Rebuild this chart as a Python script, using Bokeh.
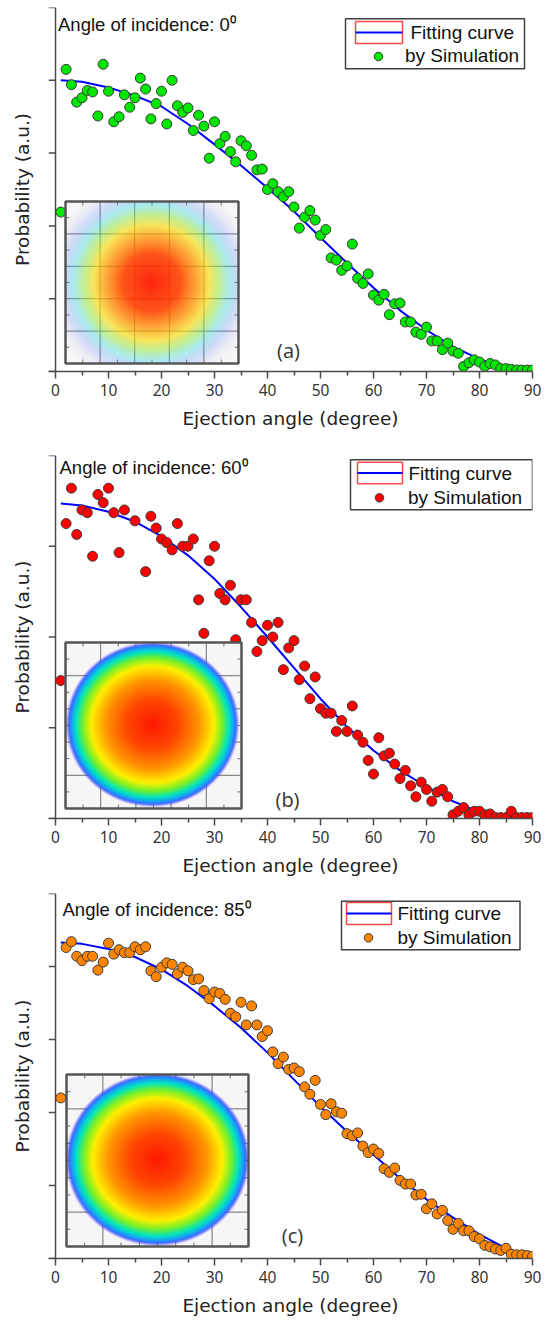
import numpy as np
from bokeh.plotting import figure
from bokeh.models import Range1d, FixedTicker
from bokeh.layouts import column
from bokeh.embed import file_html
from bokeh.resources import INLINE
from bokeh.core.properties import value

NaN = float("nan")

# ---------------- data ----------------
ejection_angle = list(range(1, 91))
x_ticks = [0, 10, 20, 30, 40, 50, 60, 70, 80, 90]
x_minor_ticks = [5, 15, 25, 35, 45, 55, 65, 75, 85]

sim_a = [2.19, 4.15, 3.94, 3.70, 3.76, 3.86, 3.84, 3.51, 4.22, 3.85,
         3.43, 3.50, 3.80, 3.63, 3.76, 4.03, 3.88, 3.47, 3.68, 3.85,
         3.40, 4.00, 3.65, 3.56, 3.62, 3.31, 3.52, 3.37, 2.93, 3.43,
         3.13, 3.23, 3.02, 2.88, 3.17, 3.10, 2.97, 2.77, 2.78, 2.50,
         2.58, 2.47, 2.40, 2.47, 2.26, 1.97, 2.12, 2.21, 2.08, 1.87,
         1.95, 1.56, 1.53, 1.39, 1.45, 1.75, 1.28, 1.21, 1.34, 1.05,
         0.98, 1.06, 0.78, 0.93, 0.94, 0.68, 0.68, 0.54, 0.51, 0.61,
         0.42, 0.42, 0.30, 0.39, 0.28, 0.25, 0.07, 0.12, 0.16, 0.13,
         0.07, 0.11, 0.09, 0.04, 0.04, 0.03, 0.02, 0.02, 0.02, 0.02]

sim_b = [1.52, 3.25, 3.64, 3.13, 3.40, 3.37, 2.89, 3.57, 3.48, 3.64,
         3.37, 2.93, 3.40, NaN, 3.28, NaN, 2.72, 3.33, 3.20, 3.08,
         3.04, 2.96, 3.25, 3.00, 3.00, 3.08, 2.41, 2.04, 2.84, 3.00,
         2.48, 2.41, 2.57, 1.97, 2.41, 2.41, 2.16, 1.84, 1.96, 2.13,
         2.00, 2.16, 1.64, 1.88, 1.96, 1.53, 1.68, 1.32, 1.56, 1.21,
         1.16, 1.16, 0.96, 1.08, 0.96, 1.24, 0.92, 0.84, 0.64, 0.49,
         0.89, 0.69, 0.72, 0.60, 0.44, 0.53, 0.36, 0.24, 0.40, 0.32,
         0.19, 0.29, 0.32, 0.24, 0.04, 0.08, 0.12, 0.04, 0.08, 0.08,
         0.04, 0.05, 0.01, 0.01, 0.01, 0.08, 0.01, 0.01, 0.01, 0.01]

sim_c = [2.20, 4.26, 4.34, 4.14, 4.08, 4.14, 4.14, 3.95, 4.06, 4.32,
         4.17, 4.23, 4.19, 4.19, 4.27, 4.23, 4.27, 3.94, 3.86, 3.99,
         4.05, 4.03, 3.90, 3.99, 3.94, 3.82, 3.83, 3.67, 3.56, 3.65,
         3.63, 3.55, 3.36, 3.31, 3.51, 3.20, 3.46, 3.20, 3.04, 3.12,
         2.83, 2.67, 2.76, 2.59, 2.61, 2.56, 2.35, 2.25, 2.44, 2.11,
         1.97, 2.12, 2.01, 1.99, 1.71, 1.68, 1.72, 1.54, 1.45, 1.50,
         1.44, 1.23, 1.18, 1.24, 1.07, 1.02, 1.02, 0.87, 0.88, 0.68,
         0.75, 0.61, 0.66, 0.52, 0.40, 0.48, 0.38, 0.38, 0.30, 0.27,
         0.18, 0.16, 0.13, 0.11, 0.14, 0.06, 0.05, 0.05, 0.04, 0.03]

fit_angle = [1, 5, 10, 15, 20, 25, 30, 35, 40, 45, 50, 55, 60, 65, 70, 75, 80, 85, 90]
fit_a = [4.00, 3.98, 3.90, 3.79, 3.64, 3.40, 3.12, 2.83, 2.52, 2.20, 1.84, 1.49, 1.15, 0.84, 0.57, 0.34, 0.17, 0.05, 0.00]
fit_b = [3.47, 3.45, 3.38, 3.27, 3.11, 2.90, 2.64, 2.33, 2.00, 1.66, 1.32, 1.01, 0.75, 0.53, 0.35, 0.19, 0.07, 0.02, 0.00]
fit_c = [4.33, 4.31, 4.24, 4.13, 3.96, 3.73, 3.46, 3.16, 2.82, 2.45, 2.08, 1.74, 1.42, 1.10, 0.81, 0.56, 0.33, 0.14, 0.02]

incidence_labels = ["Angle of incidence: 0\u2070", "Angle of incidence: 60\u2070", "Angle of incidence: 85\u2070"]
panel_tags = ["(a)", "(b)", "(c)"]
legend_labels = ["Fitting curve", "by Simulation"]
x_title = "Ejection angle (degree)"
y_title = "Probability (a.u.)"
y_max = [5, 4, 5]
marker_colors = ["#00e600", "#ff0000", "#ff8400"]

# colour map of the inset density pictures (position along radius, rgb)
scatter_stops = [0.0, 0.32, 0.52, 0.66, 0.78, 0.89, 1.0, 1.15]
scatter_rgb = [(255, 25, 0), (255, 65, 0), (255, 145, 0), (250, 220, 0),
               (140, 230, 60), (40, 215, 225), (60, 120, 255), (120, 100, 255)]
disc_stops = [0.0, 0.30, 0.55, 0.72, 0.82, 0.90, 0.96, 1.0]
disc_rgb = [(255, 25, 0), (255, 70, 0), (255, 150, 0), (255, 240, 0),
            (120, 240, 40), (0, 230, 190), (30, 150, 255), (70, 60, 255)]

# ---------------- layout (pixels inside each figure) ----------------
FRAME_L, FRAME_W = 48, 484
X0 = -7 * 90.0 / (FRAME_W - 7)      # frame starts 7 px left of angle 0 (room for y ticks)
PANELS = [
    dict(h=440, top=7, bottom=69, text=(57.5, 23.5), tag=(288, 350),
         inset=(65, 201, 238, 363), centre=(86, 81), rad=(88, 88), style="scatter",
         leg_box=(345, 18.3, 524, 68.3), leg_icon=(355, 21, 402, 43), leg_dot=(378, 56),
         leg_text=((410, 32), (404.5, 55))),
    dict(h=440, top=15, bottom=62, text=(59, 27), tag=(287, 359),
         inset=(65, 202, 241, 368), centre=(87, 82), rad=(85, 81), style="disc",
         leg_box=(350, 19.3, 532, 69.3), leg_icon=(357, 21.7, 402, 43.3), leg_dot=(379, 57.3),
         leg_text=((408, 32.5), (407.5, 56.5))),
    dict(h=444, top=13, bottom=66, text=(62, 29.3), tag=(292, 355),
         inset=(66, 194, 248, 366), centre=(91, 85), rad=(90, 85), style="disc",
         leg_box=(341, 20.7, 519.5, 69.3), leg_icon=(346, 22, 391, 44), leg_dot=(368, 57.3),
         leg_text=((397, 33), (397, 57))),
]


def ramp(t, stops, rgb):
    rgb = np.array(rgb, dtype=float)
    return [np.interp(t, stops, rgb[:, k]) for k in range(3)]


def inset_picture(w, h, cx, cy, rx, ry, style):
    yy, xx = np.mgrid[0:h, 0:w] + 0.5
    t = np.hypot((xx - cx) / rx, (yy - cy) / ry)
    rgba = np.zeros((h, w, 4), dtype=np.uint8)
    if style == "scatter":
        r, g, b = ramp(t, scatter_stops, scatter_rgb)
        a = np.interp(t, [0.0, 0.35, 0.6, 0.8, 0.95, 1.1, 1.2], [0.95, 0.9, 0.7, 0.48, 0.28, 0.08, 0.0])
    else:
        r, g, b = ramp(t, disc_stops, disc_rgb)
        a = np.clip((1.02 - t) / 0.04, 0, 1)
    rgba[..., 0] = r
    rgba[..., 1] = g
    rgba[..., 2] = b
    rgba[..., 3] = (a * 255).astype(np.uint8)
    img = rgba.view(np.uint32).reshape(h, w)
    return np.ascontiguousarray(np.flipud(img))


def make_panel(i, sims, fits):
    L = PANELS[i]
    H = L["h"]
    ymax = y_max[i]
    fb = H - L["bottom"]
    fh = fb - L["top"]

    def dx(px):
        return X0 + (px - FRAME_L) / FRAME_W * (90.0 - X0)

    def dy(py):
        return (fb - py) / fh * ymax

    p = figure(width=549, height=H, x_range=Range1d(X0, 90), y_range=Range1d(0, ymax),
               output_backend="svg", toolbar_location=None,
               min_border_left=FRAME_L, min_border_right=549 - FRAME_L - FRAME_W,
               min_border_top=L["top"], min_border_bottom=L["bottom"])
    p.xgrid.visible = False
    p.ygrid.visible = False
    p.outline_line_color = None
    p.background_fill_color = "white"
    p.border_fill_color = "white"

    axis_col = "#4a4a4a"
    for ax in (p.xaxis[0], p.yaxis[0]):
        ax.axis_line_color = axis_col
        ax.axis_line_width = 1.5
        ax.major_tick_line_color = axis_col
        ax.major_tick_line_width = 1.5
        ax.minor_tick_line_color = axis_col
        ax.minor_tick_line_width = 1.5
        ax.major_tick_in = 0
        ax.major_tick_out = 7
        ax.minor_tick_in = 0
        ax.minor_tick_out = 4
        ax.axis_label_text_font = "DejaVu Sans"
        ax.axis_label_text_font_size = "18.5px"
        ax.axis_label_text_font_style = "normal"
        ax.axis_label_text_color = "#222222"

    p.xaxis.ticker = FixedTicker(ticks=x_ticks, minor_ticks=x_minor_ticks)
    p.xaxis.major_label_text_font = "Noto Sans"
    p.xaxis.major_label_text_font_size = "15.5px"
    p.xaxis.major_label_text_color = "#333333"
    p.xaxis.axis_label = x_title
    p.xaxis.axis_label_standoff = 9

    # y axis: only its title; line and ticks are drawn at angle 0 below
    p.yaxis.ticker = FixedTicker(ticks=[], minor_ticks=[])
    p.yaxis.axis_line_color = None
    p.yaxis.major_tick_out = 0
    p.yaxis.minor_tick_out = 0
    p.yaxis.axis_label = y_title
    p.yaxis.axis_label_standoff = 16

    levels = list(range(0, ymax + 1))
    p.segment(x0=[X0] * len(levels), y0=levels, x1=[0] * len(levels), y1=levels,
              line_color=axis_col, line_width=1.5)
    p.segment(x0=[0], y0=[0], x1=[0], y1=[ymax], line_color=axis_col, line_width=1.5)

    # data
    p.line(fit_angle, fits, line_color="#0000ff", line_width=2)
    p.scatter(ejection_angle, sims, marker="circle", size=10,
              fill_color=marker_colors[i], line_color="#3c3c3c", line_width=1)

    # inset picture
    l, t, r, b = L["inset"]
    w, h = int(round(r - l)), int(round(b - t))
    p.quad(left=[dx(l)], right=[dx(r)], top=[dy(t)], bottom=[dy(b)],
           fill_color="#f6f6f6", line_color=None)
    gx0, gx1, gy0, gy1 = [], [], [], []
    for k in range(1, 5):
        xx = l + k * w / 5
        gx0 += [dx(xx)]; gx1 += [dx(xx)]; gy0 += [dy(t)]; gy1 += [dy(b)]
        yy = t + k * h / 5
        gx0 += [dx(l)]; gx1 += [dx(r)]; gy0 += [dy(yy)]; gy1 += [dy(yy)]
    p.segment(gx0, gy0, gx1, gy1, line_color="#707070", line_width=1)
    tx0, tx1, ty0, ty1 = [], [], [], []
    for k in range(5):
        xx = l + (k + 0.5) * w / 5
        tx0 += [dx(xx), dx(xx)]; tx1 += [dx(xx), dx(xx)]
        ty0 += [dy(t), dy(b)]; ty1 += [dy(t + 4), dy(b - 4)]
        yy = t + (k + 0.5) * h / 5
        tx0 += [dx(l), dx(r)]; tx1 += [dx(l + 4), dx(r - 4)]
        ty0 += [dy(yy), dy(yy)]; ty1 += [dy(yy), dy(yy)]
    p.segment(tx0, ty0, tx1, ty1, line_color="#707070", line_width=1)
    cx, cy = L["centre"]
    rx, ry = L["rad"]
    img = inset_picture(w, h, cx, cy, rx, ry, L["style"])
    p.image_rgba(image=[img], x=dx(l), y=dy(b), dw=dx(r) - dx(l), dh=dy(t) - dy(b))
    p.quad(left=[dx(l)], right=[dx(r)], top=[dy(t)], bottom=[dy(b)],
           fill_color=None, line_color="#555555", line_width=2.5)

    # texts
    tx, ty = L["text"]
    p.text(x=[dx(tx)], y=[dy(ty)], text=[incidence_labels[i]],
           text_font=value("Liberation Sans"), text_font_size="18.5px",
           text_baseline="middle", text_align="left", text_color="#111111")
    gx, gy = L["tag"]
    p.text(x=[dx(gx)], y=[dy(gy)], text=[panel_tags[i]],
           text_font=value("Open Sans"), text_font_size="20px",
           text_baseline="middle", text_align="center", text_color="#333333")

    # legend (box, swatch with line, marker, labels)
    bl, bt, br, bb = L["leg_box"]
    p.quad(left=[dx(bl)], right=[dx(br)], top=[dy(bt)], bottom=[dy(bb)],
           fill_color="white", line_color="#404040", line_width=1.5)
    il, it, ir, ib = L["leg_icon"]
    p.multi_line(xs=[[dx(il), dx(ir), dx(ir), dx(il), dx(il)]],
                 ys=[[dy(it), dy(it), dy(ib), dy(ib), dy(it)]],
                 line_color="#ff4a4a", line_width=1.5)
    p.segment(x0=[dx(il)], y0=[dy((it + ib) / 2)], x1=[dx(ir)], y1=[dy((it + ib) / 2)],
              line_color="#0000ff", line_width=2)
    ox, oy = L["leg_dot"]
    p.scatter(x=[dx(ox)], y=[dy(oy)], marker="circle", size=8.5,
              fill_color=marker_colors[i], line_color="#3c3c3c", line_width=1)
    (t1x, t1y), (t2x, t2y) = L["leg_text"]
    p.text(x=[dx(t1x), dx(t2x)], y=[dy(t1y), dy(t2y)], text=legend_labels,
           text_font=value("Liberation Sans"), text_font_size="19px",
           text_baseline="middle", text_align="left", text_color="#111111")
    return p


pa = make_panel(0, sim_a, fit_a)
pb = make_panel(1, sim_b, fit_b)
pc = make_panel(2, sim_c, fit_c)

layout = column(pa, pb, pc, spacing=0)
open("out.html", "w").write(file_html(layout, INLINE))
